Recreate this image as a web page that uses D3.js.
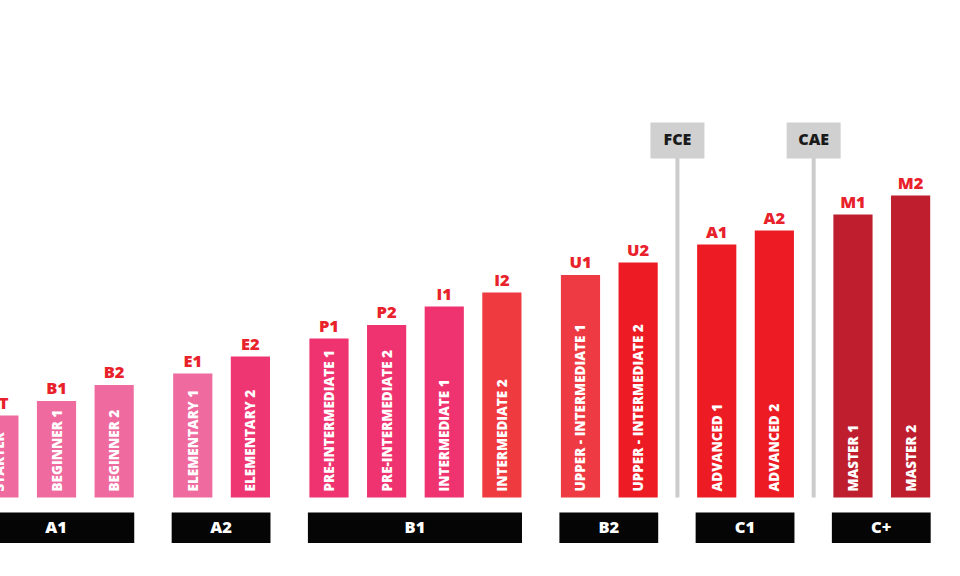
<!DOCTYPE html>
<html>
<head>
<meta charset="utf-8">
<script src="https://cdn.jsdelivr.net/npm/d3@7"></script>
<style>
  body { margin: 0; background: #fff; }
  svg { display: block; font-family: "Open Sans", sans-serif; }
</style>
</head>
<body>
<div id="chart"></div>
<script>
let width = 960,
    height = 576;

// levels, left to right
const codes = ["ST", "B1", "B2", "E1", "E2", "P1", "P2", "I1", "I2", "U1", "U2", "A1", "A2", "M1", "M2"];
const names = ["STARTER", "BEGINNER 1", "BEGINNER 2", "ELEMENTARY 1", "ELEMENTARY 2",
  "PRE-INTERMEDIATE 1", "PRE-INTERMEDIATE 2", "INTERMEDIATE 1", "INTERMEDIATE 2",
  "UPPER - INTERMEDIATE 1", "UPPER - INTERMEDIATE 2", "ADVANCED 1", "ADVANCED 2", "MASTER 1", "MASTER 2"];
const groupOf = ["A1", "A1", "A1", "A2", "A2", "B1", "B1", "B1", "B1", "B2", "B2", "C1", "C1", "C+", "C+"];
const values = [82, 96.5, 112.5, 124, 141, 159, 172.5, 191, 205, 222.5, 235, 253, 267, 283, 302];

const groups = ["A1", "A2", "B1", "B2", "C1", "C+"];

// exams sit in the gap after these levels
const exams = ["FCE", "CAE"];
const examAfter = ["U2", "A2"];

const palette = ["#ee6a9f", "#ee6a9f", "#ee6a9f", "#ee6a9f", "#ee3672", "#ee3370", "#ee3370", "#ee3370",
  "#ef3a3f", "#ee3b43", "#ed1c24", "#ed1c24", "#ed1c24", "#be1e2d", "#be1e2d"];

const color = d3.scaleOrdinal().domain(codes).range(palette);

let data = codes.map((c, i) => ({
  code: c,
  name: names[i],
  group: groupOf[i],
  value: values[i],
  slot: i + groups.indexOf(groupOf[i]) * 0.364
}));

let baseY = 497.5;

let x = d3.scaleLinear()
  .domain([0, d3.max(data, d => d.slot)])
  .range([-20.7, 891]);

let step = x(1) - x(0),
    bw = step * 0.68;

let y = d3.scaleLinear()
  .domain([0, 320])
  .range([baseY, baseY - 320]);

const svg = d3.select("#chart")
  .append("svg")
  .attr("width", width)
  .attr("height", height)
  .attr("viewBox", [0, 0, width, height]);

// exam markers
let byCode = new Map(data.map(d => [d.code, d]));
exams.forEach((e, i) => {
  let d = byCode.get(examAfter[i]);
  let next = data[data.indexOf(d) + 1];
  let cx = (x(d.slot) + bw + x(next.slot)) / 2;
  let g = svg.append("g");
  g.append("line")
    .attr("x1", cx).attr("x2", cx)
    .attr("y1", 150).attr("y2", baseY)
    .attr("stroke", "#cccccc")
    .attr("stroke-width", 4);
  g.append("rect")
    .attr("x", cx - 27).attr("y", 122.5)
    .attr("width", 54).attr("height", 36)
    .attr("fill", "#d0d0d0");
  g.append("text")
    .attr("x", cx).attr("y", 141)
    .attr("text-anchor", "middle")
    .attr("dominant-baseline", "middle")
    .attr("font-size", 16)
    .attr("font-weight", 800)
    .attr("fill", "#1a1a1a")
    .text(e);
});

// bars
let bars = svg.append("g")
  .selectAll("g")
  .data(data)
  .join("g");

bars.append("rect")
  .attr("x", d => x(d.slot))
  .attr("y", d => y(d.value))
  .attr("width", bw)
  .attr("height", d => y(0) - y(d.value))
  .attr("fill", d => color(d.code));

bars.append("text")
  .attr("x", d => x(d.slot) + bw / 2)
  .attr("y", d => y(d.value) - 7)
  .attr("text-anchor", "middle")
  .attr("font-size", 16.5)
  .attr("font-weight", 800)
  .attr("fill", "#e8212b")
  .text(d => d.code);

bars.append("text")
  .attr("transform", d => `translate(${x(d.slot) + bw / 2},${baseY - 6}) rotate(-90)`)
  .attr("dominant-baseline", "central")
  .attr("font-size", 13.5)
  .attr("font-weight", 800)
  .attr("fill", "#fff")
  .text(d => d.name);

// group boxes
let gbox = svg.append("g")
  .selectAll("g")
  .data(groups)
  .join("g");

gbox.each(function (gname) {
  let members = data.filter(d => d.group === gname);
  let x0 = x(members[0].slot) - 1.5,
      x1 = x(members[members.length - 1].slot) + bw + 0.5;
  let g = d3.select(this);
  g.append("rect")
    .attr("x", x0).attr("y", 512.5)
    .attr("width", x1 - x0).attr("height", 30.5)
    .attr("fill", "#050505");
  g.append("text")
    .attr("x", (x0 + x1) / 2).attr("y", 529)
    .attr("text-anchor", "middle")
    .attr("dominant-baseline", "middle")
    .attr("font-size", 16.5)
    .attr("font-weight", 800)
    .attr("fill", "#fff")
    .text(gname);
});
</script>
</body>
</html>
